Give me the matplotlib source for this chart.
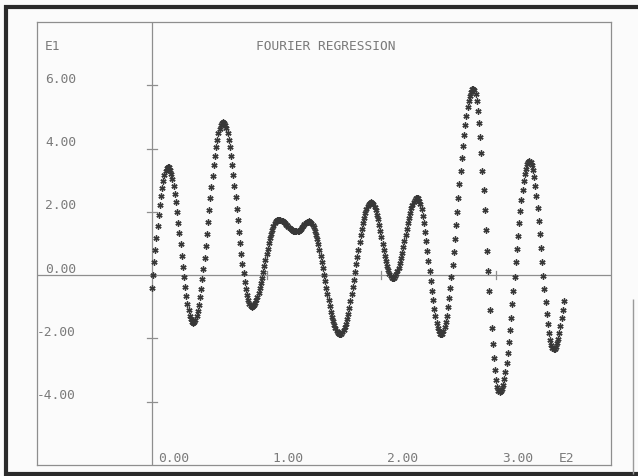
import numpy as np
import matplotlib
matplotlib.use("Agg")
import matplotlib.pyplot as plt
from matplotlib.lines import Line2D

# Fitted Fourier regression values, one per unit step of x (x in E2 units * 100)
fit_values = [
    -0.40, 0.00, 0.40, 0.80, 1.18, 1.55, 1.90, 2.22, 2.50, 2.76,
    2.98, 3.15, 3.29, 3.38, 3.43, 3.41, 3.33, 3.21, 3.04, 2.83,
    2.58, 2.30, 1.99, 1.66, 1.32, 0.97, 0.61, 0.27, -0.06, -0.37,
    -0.65, -0.90, -1.11, -1.28, -1.40, -1.48, -1.50, -1.48, -1.41, -1.29,
    -1.14, -0.94, -0.70, -0.43, -0.13, 0.20, 0.55, 0.91, 1.29, 1.67,
    2.05, 2.43, 2.79, 3.14, 3.47, 3.77, 4.04, 4.28, 4.48, 4.63,
    4.75, 4.82, 4.84, 4.82, 4.75, 4.64, 4.48, 4.28, 4.05, 3.78,
    3.49, 3.16, 2.82, 2.47, 2.10, 1.74, 1.37, 1.02, 0.68, 0.36,
    0.06, -0.21, -0.44, -0.64, -0.80, -0.91, -0.98, -1.00, -0.99, -0.95,
    -0.89, -0.80, -0.69, -0.56, -0.42, -0.26, -0.09, 0.10, 0.28, 0.47,
    0.66, 0.84, 1.01, 1.17, 1.31, 1.44, 1.55, 1.64, 1.70, 1.74,
    1.75, 1.75, 1.74, 1.72, 1.70, 1.67, 1.64, 1.60, 1.57, 1.53,
    1.49, 1.46, 1.43, 1.41, 1.39, 1.38, 1.38, 1.39, 1.41, 1.44,
    1.47, 1.52, 1.56, 1.61, 1.65, 1.68, 1.69, 1.70, 1.69, 1.65,
    1.59, 1.51, 1.41, 1.28, 1.14, 0.98, 0.81, 0.62, 0.43, 0.23,
    0.02, -0.19, -0.40, -0.60, -0.79, -0.98, -1.15, -1.31, -1.45, -1.58,
    -1.68, -1.76, -1.82, -1.86, -1.87, -1.86, -1.81, -1.74, -1.65, -1.53,
    -1.38, -1.22, -1.03, -0.83, -0.61, -0.38, -0.15, 0.09, 0.34, 0.58,
    0.81, 1.04, 1.26, 1.46, 1.65, 1.81, 1.96, 2.08, 2.17, 2.24,
    2.29, 2.30, 2.28, 2.24, 2.16, 2.05, 1.91, 1.76, 1.58, 1.40,
    1.20, 1.00, 0.81, 0.62, 0.44, 0.29, 0.15, 0.05, -0.04, -0.08,
    -0.10, -0.09, -0.04, 0.03, 0.12, 0.24, 0.38, 0.54, 0.71, 0.89,
    1.08, 1.27, 1.46, 1.64, 1.81, 1.97, 2.11, 2.23, 2.32, 2.39,
    2.44, 2.45, 2.43, 2.35, 2.24, 2.08, 1.87, 1.64, 1.37, 1.08,
    0.77, 0.45, 0.13, -0.19, -0.50, -0.79, -1.06, -1.29, -1.50, -1.66,
    -1.77, -1.85, -1.87, -1.85, -1.77, -1.65, -1.49, -1.28, -1.02, -0.73,
    -0.41, -0.05, 0.33, 0.73, 1.15, 1.58, 2.01, 2.45, 2.87, 3.29,
    3.69, 4.07, 4.43, 4.75, 5.04, 5.30, 5.51, 5.67, 5.79, 5.87,
    5.89, 5.85, 5.71, 5.49, 5.19, 4.82, 4.37, 3.86, 3.30, 2.70,
    2.07, 1.42, 0.77, 0.12, -0.51, -1.11, -1.67, -2.18, -2.63, -3.00,
    -3.30, -3.52, -3.66, -3.70, -3.67, -3.59, -3.46, -3.28, -3.05, -2.78,
    -2.47, -2.12, -1.74, -1.34, -0.92, -0.49, -0.05, 0.40, 0.83, 1.25,
    1.65, 2.03, 2.38, 2.69, 2.96, 3.19, 3.37, 3.50, 3.58, 3.61,
    3.58, 3.48, 3.32, 3.09, 2.82, 2.49, 2.12, 1.72, 1.30, 0.86,
    0.41, -0.03, -0.45, -0.85, -1.22, -1.55, -1.82, -2.05, -2.21, -2.31,
    -2.34, -2.32, -2.26, -2.16, -2.02, -1.84, -1.62, -1.37, -1.10, -0.82,
]
x_values = np.arange(len(fit_values))

x_ticks = [100, 200, 300]
x_tick_labels = ["1.00", "2.00", "3.00"]
y_ticks = [6, 4, 2, -2, -4]
y_tick_labels = ["6.00", "4.00", "2.00", "-2.00", "-4.00"]

title = "FOURIER REGRESSION"
x_exp = "E2"
y_exp = "E1"

FONT = "DejaVu Sans Mono"
TXT = "#7a7a7a"
LINE = "#8e8e8e"
INK = "#383838"

fig = plt.figure(figsize=(6.38, 4.77), dpi=100)
fig.patch.set_facecolor("#fbfbfb")

W, H = 638, 477
left, right, top, bottom = 37, 611, 23, 466
ax = fig.add_axes([left / W, 1 - bottom / H, (right - left) / W, (bottom - top) / H])
ax.set_xlim(-100, 400)
ax.set_ylim(-6, 8)
ax.set_facecolor("#fbfbfb")
for s in ax.spines.values():
    s.set_color(LINE)
    s.set_linewidth(0.9)
ax.set_xticks([])
ax.set_yticks([])

# axes through the origin
ax.axhline(0, color=LINE, lw=0.9, zorder=1)
ax.axvline(0, color=LINE, lw=0.9, zorder=1)

# tick crosses on the vertical axis, short ticks on the horizontal axis
px_x = 500 / (right - left)   # data units per pixel in x
px_y = 14 / (bottom - top)    # data units per pixel in y
for t in y_ticks:
    ax.plot([-5 * px_x, 5 * px_x], [t, t], color=LINE, lw=0.9, zorder=1)
for t in x_ticks:
    ax.plot([t, t], [-4 * px_y, 4 * px_y], color=LINE, lw=0.9, zorder=1)

# fitted points drawn as plotter asterisks
ax.plot(x_values, fit_values, linestyle="none", marker=(6, 2, 0),
        markersize=4.4, markeredgewidth=1.0, color=INK, zorder=3)

fs = 9.3
# y tick labels along the left frame
ax.annotate("0.00", xy=(-100, 0), xytext=(8, 7), textcoords="offset pixels",
            ha="left", va="center", fontsize=fs, family=FONT, color=TXT)
for t, lab in zip(y_ticks, y_tick_labels):
    dx = 0 if lab.startswith("-") else 8
    ax.annotate(lab, xy=(-100, t), xytext=(dx, 7), textcoords="offset pixels",
                ha="left", va="center", fontsize=fs, family=FONT, color=TXT)
ax.annotate(y_exp, xy=(-100, 8), xytext=(8, -23), textcoords="offset pixels",
            ha="left", va="center", fontsize=fs, family=FONT, color=TXT)

# x tick labels along the bottom frame
ax.annotate("0.00", xy=(0, -6), xytext=(6, 7), textcoords="offset pixels",
            ha="left", va="center", fontsize=fs, family=FONT, color=TXT)
for t, lab in zip(x_ticks, x_tick_labels):
    ax.annotate(lab, xy=(t, -6), xytext=(6, 7), textcoords="offset pixels",
                ha="left", va="center", fontsize=fs, family=FONT, color=TXT)
ax.annotate(x_exp, xy=(300, -6), xytext=(63, 7), textcoords="offset pixels",
            ha="left", va="center", fontsize=fs, family=FONT, color=TXT)

# title
ax.annotate(title, xy=(0, 8), xytext=(104, -23), textcoords="offset pixels",
            ha="left", va="center", fontsize=fs, family=FONT, color=TXT)

# heavy outer border of the plot sheet
def fig_line(xs, ys, lw, color):
    fig.add_artist(Line2D([x / W for x in xs], [1 - y / H for y in ys],
                          transform=fig.transFigure, lw=lw, color=color,
                          solid_capstyle="butt"))

fig_line([4, 638], [7.5, 7.5], 3.0, "#2a2a2a")
fig_line([5.5, 5.5], [6, 477], 3.0, "#2a2a2a")
fig_line([4, 638], [475, 475], 3.0, "#2a2a2a")
fig_line([633, 633], [300, 475], 1.0, "#9a9a9a")

fig.savefig("out.png", dpi=100, facecolor=fig.get_facecolor())
